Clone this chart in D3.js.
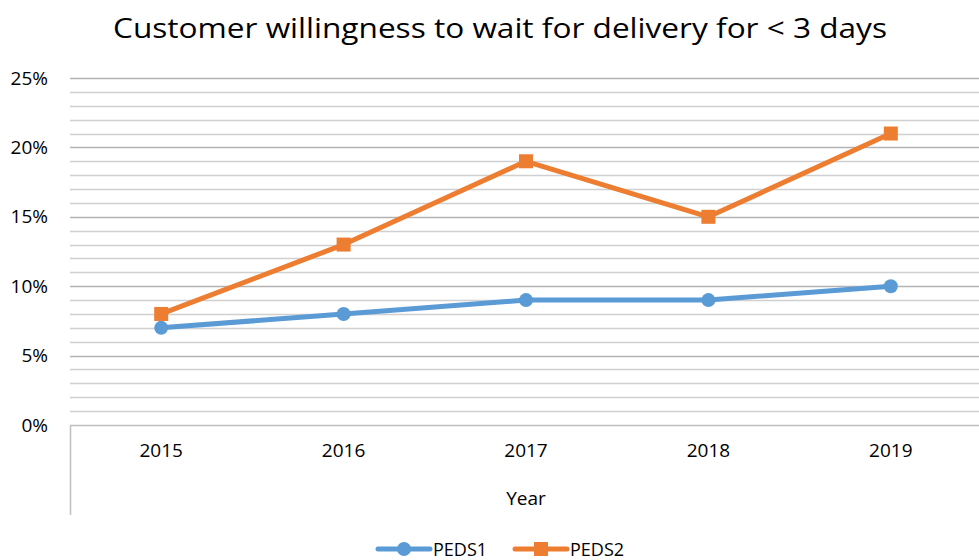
<!DOCTYPE html>
<html>
<head>
<meta charset="utf-8">
<script src="https://cdn.jsdelivr.net/npm/d3@7"></script>
<style>
  body { margin: 0; background: #fff; }
  svg { display: block; font-family: "Open Sans", "Liberation Sans", sans-serif; }
</style>
</head>
<body>
<svg id="chart" width="979" height="560"></svg>
<script>
var years = ["2015", "2016", "2017", "2018", "2019"];
var peds1 = [0.07, 0.08, 0.09, 0.09, 0.10];
var peds2 = [0.08, 0.13, 0.19, 0.15, 0.21];
var series_names = ["PEDS1", "PEDS2"];
var series_colors = ["#5b9bd5", "#ed7d31"];
var y_ticks = [0, 0.05, 0.10, 0.15, 0.20, 0.25];

var plot_left = 70, plot_right = 982, plot_top = 78, plot_bottom = 425;

var svg = d3.select("#chart");

var x = d3.scaleBand().domain(years).range([plot_left, plot_right]);
var y = d3.scaleLinear().domain([0, 0.25]).range([plot_bottom, plot_top]);

/* minor gridlines every 1%, major every 5% */
var grid = d3.range(1, 26).map(function (i) { return i / 100; });
svg.append("g").selectAll("line").data(grid).enter().append("line")
    .attr("x1", plot_left).attr("x2", 979)
    .attr("y1", function (d) { return Math.round(y(d)) + 0.5; })
    .attr("y2", function (d) { return Math.round(y(d)) + 0.5; })
    .attr("stroke", function (d, i) { return (i + 1) % 5 == 0 ? "#b3b3b3" : "#d0d0d0"; })
    .attr("stroke-width", 1.5);

/* axis lines */
svg.append("line").attr("x1", plot_left).attr("x2", 979)
    .attr("y1", plot_bottom + 0.5).attr("y2", plot_bottom + 0.5)
    .attr("stroke", "#bfbfbf").attr("stroke-width", 1.5);
svg.append("line").attr("x1", plot_left + 0.5).attr("x2", plot_left + 0.5)
    .attr("y1", plot_bottom).attr("y2", 515)
    .attr("stroke", "#bfbfbf").attr("stroke-width", 1.5);

/* y tick labels */
var yAxis = d3.axisLeft(y).tickValues(y_ticks).tickFormat(d3.format(".0%")).tickSize(0).tickPadding(22);
var ya = svg.append("g").attr("transform", "translate(" + plot_left + ",0)").call(yAxis);
ya.select(".domain").remove();
ya.selectAll("text").attr("font-size", 19).attr("fill", "#000")
    .attr("font-family", "Open Sans, sans-serif");

/* x tick labels */
var xAxis = d3.axisBottom(x).tickSize(0).tickPadding(19);
var xa = svg.append("g").attr("transform", "translate(0," + plot_bottom + ")").call(xAxis);
xa.select(".domain").remove();
xa.selectAll("text").attr("font-size", 19).attr("fill", "#000")
    .attr("font-family", "Open Sans, sans-serif");

svg.append("text").attr("x", 526).attr("y", 505).attr("text-anchor", "middle")
    .attr("font-size", 19).text("Year");

svg.append("text").attr("x", 500).attr("y", 38).attr("text-anchor", "middle")
    .attr("font-size", 28).attr("textLength", 774).attr("lengthAdjust", "spacingAndGlyphs")
    .text("Customer willingness to wait for delivery for < 3 days");

var line = d3.line()
    .x(function (d, i) { return x(years[i]) + x.bandwidth() / 2; })
    .y(function (d) { return y(d); });

var all = [peds1, peds2];
all.forEach(function (vals, s) {
    svg.append("path").attr("d", line(vals)).attr("fill", "none")
        .attr("stroke", series_colors[s]).attr("stroke-width", 5)
        .attr("stroke-linejoin", "round").attr("stroke-linecap", "round");
    var g = svg.append("g");
    if (s == 0) {
        g.selectAll("circle").data(vals).enter().append("circle")
            .attr("cx", function (d, i) { return x(years[i]) + x.bandwidth() / 2; })
            .attr("cy", function (d) { return y(d); })
            .attr("r", 7).attr("fill", series_colors[s]);
    } else {
        g.selectAll("rect").data(vals).enter().append("rect")
            .attr("x", function (d, i) { return x(years[i]) + x.bandwidth() / 2 - 7; })
            .attr("y", function (d) { return y(d) - 7; })
            .attr("width", 14).attr("height", 14).attr("fill", series_colors[s]);
    }
});

/* legend */
var legend_x = [378, 515];
series_names.forEach(function (name, s) {
    var lx = legend_x[s], ly = 549;
    var g = svg.append("g");
    g.append("line").attr("x1", lx).attr("x2", lx + 52).attr("y1", ly).attr("y2", ly)
        .attr("stroke", series_colors[s]).attr("stroke-width", 5).attr("stroke-linecap", "round");
    if (s == 0) {
        g.append("circle").attr("cx", lx + 26).attr("cy", ly).attr("r", 7).attr("fill", series_colors[s]);
    } else {
        g.append("rect").attr("x", lx + 26 - 7).attr("y", ly - 7).attr("width", 14).attr("height", 14)
            .attr("fill", series_colors[s]);
    }
    g.append("text").attr("x", lx + 55).attr("y", ly + 7).attr("font-size", 18).text(name);
});
</script>
</body>
</html>
